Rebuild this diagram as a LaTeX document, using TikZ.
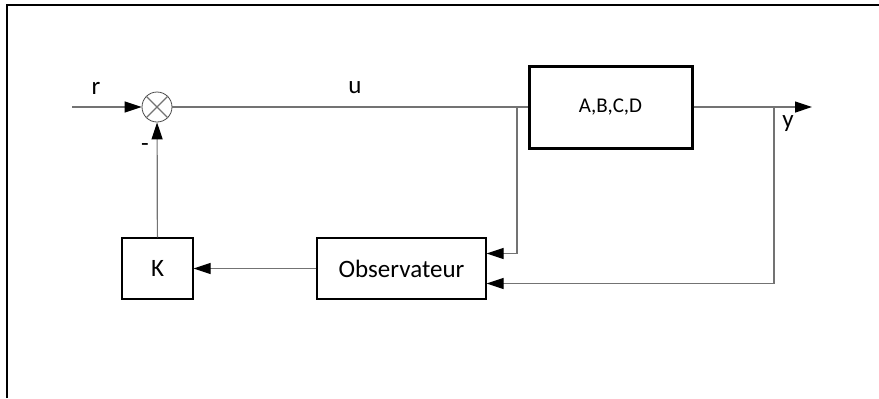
\documentclass[tikz,border=0pt]{standalone}
\usepackage{fontspec}
\setmainfont{Carlito}
\usetikzlibrary{arrows.meta}

\begin{document}
\begin{tikzpicture}[x=0.5pt,y=-0.5pt,
  wire/.style={draw=black!55, line width=0.6pt},
  sig/.style={wire, -{Triangle[length=8.5pt,width=5.5pt,color=black]}},
  block/.style={draw, line width=0.6pt, inner sep=0pt,
    font=\fontsize{12.5}{15}\selectfont},
  lbl/.style={font=\fontsize{12.5}{15}\selectfont}]
  \useasboundingbox (0,0) rectangle (879,398);
  % frame
  \draw[line width=1.1pt] (7,398) -- (7,5) -- (879,5);

  % blocks
  \node[draw=black!70, circle, minimum size=15pt, inner sep=0pt] (sum) at (157,107) {};
  \draw[wire] (sum.north west) -- (sum.south east);
  \draw[wire] (sum.north east) -- (sum.south west);
  \node[block, line width=1.5pt, minimum width=81.5pt, minimum height=41pt,
    font=\fontsize{10.5}{13}\selectfont] (plant) at (610.5,107) {A,B,C,D};
  \node[block, minimum width=84.5pt, minimum height=30.5pt] (obs) at (401.5,268.5) {Observateur};
  \node[block, minimum width=35.5pt, minimum height=30.5pt] (K) at (157.5,268.5) {K};

  \coordinate (rin) at (72,107);
  \coordinate (yout) at (812,107);
  \coordinate (ubr) at (517,107);
  \coordinate (ybr) at (774,107);

  % signals
  \draw[sig] (rin) -- (sum);
  \draw[wire] (sum) -- (plant);
  \draw[sig] (plant) -- (yout);
  \draw[sig] (ubr) |- ([yshift=7.5pt]obs.east);
  \draw[sig] (ybr) |- ([yshift=-7.5pt]obs.east);
  \draw[sig] (obs) -- (K);
  \draw[sig] (K) -- (sum);

  % labels
  \node[lbl] (rlab) at (96,88) {r};
  \node[lbl] (ulab) at (355,88) {u};
  \node[lbl] (ylab) at (788,124) {y};
  \node[lbl] (minus) at (145,148) {-};
\end{tikzpicture}
\end{document}
